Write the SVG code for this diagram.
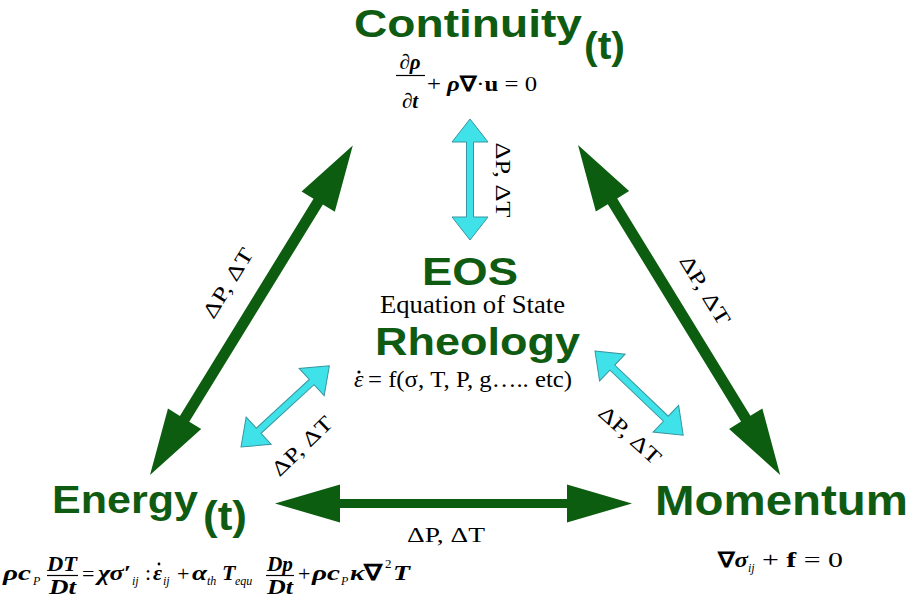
<svg xmlns="http://www.w3.org/2000/svg" width="912" height="600" viewBox="0 0 912 600">
<style>
.title{font-family:"Liberation Sans",Arial,sans-serif;font-weight:bold;fill:#0f5b12}
.serif{font-family:"Liberation Serif","Times New Roman",serif;fill:#000}
.bi{font-weight:bold;font-style:italic}
.b{font-weight:bold}
.it{font-style:italic}
.sub{font-size:12px;font-style:italic}
.green{fill:#0c5d10}
.cyan{fill:#3fe2e8;stroke:#3796a0;stroke-width:1}
.lbl{font-family:"Liberation Serif","Times New Roman",serif;font-size:21px;fill:#000;text-anchor:middle;dominant-baseline:central}
.frac{stroke:#000;stroke-width:1.2}
</style>
<rect width="912" height="600" fill="#fff"/>

<g id="connectors">
  <polygon class="green" transform="translate(150,475) rotate(-58.4)" points="0,0 66,-19.5 66,-5.5 321,-5.5 321,-19.5 387,0 321,19.5 321,5.5 66,5.5 66,19.5"/>
  <polygon class="green" transform="translate(578,145) rotate(58.5)" points="0,0 66,-19.5 66,-5.5 321,-5.5 321,-19.5 387,0 321,19.5 321,5.5 66,5.5 66,19.5"/>
  <polygon class="green" transform="translate(275,503.5)" points="0,0 65,-19 65,-4.5 292,-4.5 292,-19 357,0 292,19 292,4.5 65,4.5 65,19"/>
  <polygon class="cyan" transform="translate(470,119) rotate(90)" points="0,0 23,-18 23,-3.5 98,-3.5 98,-18 121,0 98,18 98,3.5 23,3.5 23,18"/>
  <polygon class="cyan" transform="translate(241,447) rotate(-42.6)" points="0,0 24,-18.5 24,-3.5 96,-3.5 96,-18.5 120,0 96,18.5 96,3.5 24,3.5 24,18.5"/>
  <polygon class="cyan" transform="translate(595,351) rotate(43.7)" points="0,0 24,-18.5 24,-3.5 98,-3.5 98,-18.5 122,0 98,18.5 98,3.5 24,3.5 24,18.5"/>

  <text class="lbl" transform="translate(503,180) rotate(90)" textLength="75" lengthAdjust="spacingAndGlyphs">ΔP, ΔT</text>
  <text class="lbl" transform="translate(228,283) rotate(-58.4)" textLength="78" lengthAdjust="spacingAndGlyphs">ΔP, ΔT</text>
  <text class="lbl" transform="translate(705,290) rotate(58.5)" textLength="78" lengthAdjust="spacingAndGlyphs">ΔP, ΔT</text>
  <text class="lbl" transform="translate(302,446) rotate(-44)" textLength="76" lengthAdjust="spacingAndGlyphs">ΔP, ΔT</text>
  <text class="lbl" transform="translate(630,435) rotate(42)" textLength="76" lengthAdjust="spacingAndGlyphs">ΔP, ΔT</text>
  <text class="lbl" x="446" y="535" textLength="78" lengthAdjust="spacingAndGlyphs">ΔP, ΔT</text>
</g>

<g id="continuity">
  <text class="title" x="354" y="37" font-size="39" textLength="228" lengthAdjust="spacingAndGlyphs">Continuity</text>
  <text class="title" x="584" y="59" font-size="39" textLength="41" lengthAdjust="spacingAndGlyphs">(t)</text>
  <g class="serif" font-size="21">
    <text x="410" y="69" text-anchor="middle">∂<tspan class="bi">ρ</tspan></text>
    <line class="frac" x1="396" y1="75.5" x2="425" y2="75.5"/>
    <text x="410" y="108" text-anchor="middle">∂<tspan class="bi">t</tspan></text>
    <text x="427" y="91" textLength="110" lengthAdjust="spacingAndGlyphs">+ <tspan class="bi">ρ</tspan><tspan class="b">∇</tspan>·<tspan class="b">u</tspan> = 0</text>
  </g>
</g>

<g id="eos">
  <text class="title" x="422" y="285" font-size="39" textLength="96" lengthAdjust="spacingAndGlyphs">EOS</text>
  <text class="serif" x="380" y="313" font-size="25" textLength="185" lengthAdjust="spacingAndGlyphs">Equation of State</text>
</g>

<g id="rheology">
  <text class="title" x="375" y="355" font-size="38" textLength="205" lengthAdjust="spacingAndGlyphs">Rheology</text>
  <g class="serif">
    <text x="354" y="387" font-size="24" class="it">ε</text>
    <circle cx="359" cy="372" r="1.6" fill="#000"/>
    <text x="368" y="387" font-size="24" textLength="204" lengthAdjust="spacingAndGlyphs">= f(σ, T, P, g….. etc)</text>
  </g>
</g>

<g id="energy">
  <text class="title" x="52" y="513" font-size="38" textLength="146" lengthAdjust="spacingAndGlyphs">Energy</text>
  <text class="title" x="203" y="530" font-size="40" textLength="44" lengthAdjust="spacingAndGlyphs">(t)</text>
  <g class="serif" font-size="22">
    <text x="3" y="580" class="bi" textLength="28" lengthAdjust="spacingAndGlyphs">ρc</text>
    <text x="33" y="585" class="sub">P</text>
    <text x="47" y="571" class="bi" textLength="30" lengthAdjust="spacingAndGlyphs">DT</text>
    <line class="frac" x1="47" y1="575.5" x2="78" y2="575.5"/>
    <text x="49" y="594" class="bi" textLength="27" lengthAdjust="spacingAndGlyphs">Dt</text>
    <text x="82" y="581">=</text>
    <text x="98" y="580" class="bi" textLength="33" lengthAdjust="spacingAndGlyphs">χσ′</text>
    <text x="132" y="585" class="sub">ij</text>
    <text x="145" y="580">:</text>
    <text x="153" y="580" class="bi">ε</text>
    <circle cx="159" cy="564" r="1.4" fill="#000"/>
    <text x="163" y="585" class="sub">ij</text>
    <text x="177" y="581">+</text>
    <text x="192" y="580" class="bi" textLength="15" lengthAdjust="spacingAndGlyphs">α</text>
    <text x="207" y="585" class="sub">th</text>
    <text x="222" y="580" class="bi">T</text>
    <text x="235" y="585" class="sub">equ</text>
    <text x="267" y="571" class="bi" textLength="26" lengthAdjust="spacingAndGlyphs">Dp</text>
    <line class="frac" x1="266" y1="575.5" x2="294" y2="575.5"/>
    <text x="267" y="594" class="bi" textLength="26" lengthAdjust="spacingAndGlyphs">Dt</text>
    <text x="298" y="581">+</text>
    <text x="312" y="580" class="bi" textLength="28" lengthAdjust="spacingAndGlyphs">ρc</text>
    <text x="341" y="585" class="sub">P</text>
    <text x="350" y="580" textLength="33" lengthAdjust="spacingAndGlyphs"><tspan class="bi">κ</tspan><tspan class="b">∇</tspan></text>
    <text x="385" y="568" font-size="13">2</text>
    <text x="393" y="580" class="bi" textLength="17" lengthAdjust="spacingAndGlyphs">T</text>
  </g>
</g>

<g id="momentum">
  <text class="title" x="655" y="515" font-size="42" textLength="253" lengthAdjust="spacingAndGlyphs">Momentum</text>
  <g class="serif" font-size="21">
    <text x="718" y="567" textLength="30" lengthAdjust="spacingAndGlyphs"><tspan class="b">∇</tspan><tspan class="bi">σ</tspan></text>
    <text x="748" y="572" class="sub">ij</text>
    <text x="762" y="567" textLength="81" lengthAdjust="spacingAndGlyphs">+ <tspan class="b">f</tspan> = 0</text>
  </g>
</g>
</svg>
